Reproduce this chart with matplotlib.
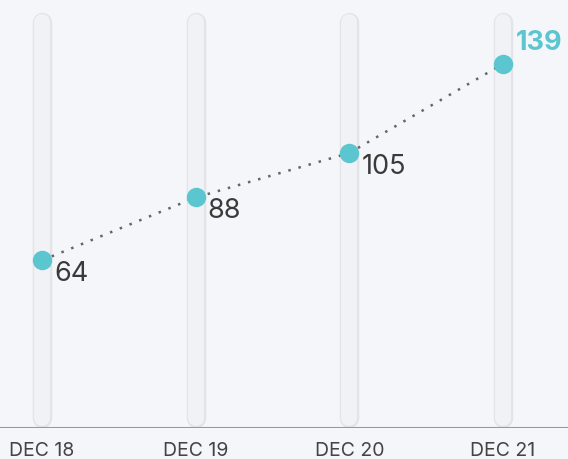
import matplotlib.pyplot as plt
import numpy as np

# data
days = ['DEC 18', 'DEC 19', 'DEC 20', 'DEC 21']
values = [64, 88, 105, 139]
track_top = 155

teal = '#5bc6cf'
bg = '#f5f6f9'
font = 'Inter'

fig = plt.figure(figsize=(5.68, 4.59), dpi=100)
fig.patch.set_facecolor(bg)
ax = fig.add_axes([0, 31 / 459, 1, 1 - 31 / 459])
ax.set_facecolor(bg)

x = np.arange(len(days))

# background tracks (pills)
for xi in x:
    ax.plot([xi, xi], [4, track_top], color='#e3e4e8', lw=14, solid_capstyle='round', zorder=1)
    ax.plot([xi, xi], [4, track_top], color='#f1f2f5', lw=11.5, solid_capstyle='round', zorder=2)

# dotted line + points
ax.plot(x, values, color='#666666', lw=1.8, ls=(0, (1, 3.2)), zorder=3)
ax.plot(x, values, 'o', color=teal, ms=14, mec='none', zorder=4)

for i, v in enumerate(values):
    if i == len(values) - 1:
        ax.annotate(str(v), (x[i], v), xytext=(13, 21), textcoords='offset pixels',
                    ha='left', va='center', fontsize=19.5, fontweight='bold',
                    color=teal, family=font, zorder=5)
    else:
        ax.annotate(str(v), (x[i], v), xytext=(12, -14), textcoords='offset pixels',
                    ha='left', va='center', fontsize=19.5, color='#3a3a3a',
                    family=font, zorder=5)

ax.set_xlim(-42 / 153.7, 3 + 65 / 153.7)
ax.set_ylim(0, 163.4)
ax.axhline(0, color='#999999', lw=1.5, zorder=5)

ax.set_xticks(x)
ax.set_xticklabels(days, fontsize=14, color='#444444', family=font)
ax.tick_params(axis='x', length=0, pad=10)
ax.set_yticks([])
for s in ax.spines.values():
    s.set_visible(False)

fig.savefig('out.png', dpi=100, facecolor=bg)
